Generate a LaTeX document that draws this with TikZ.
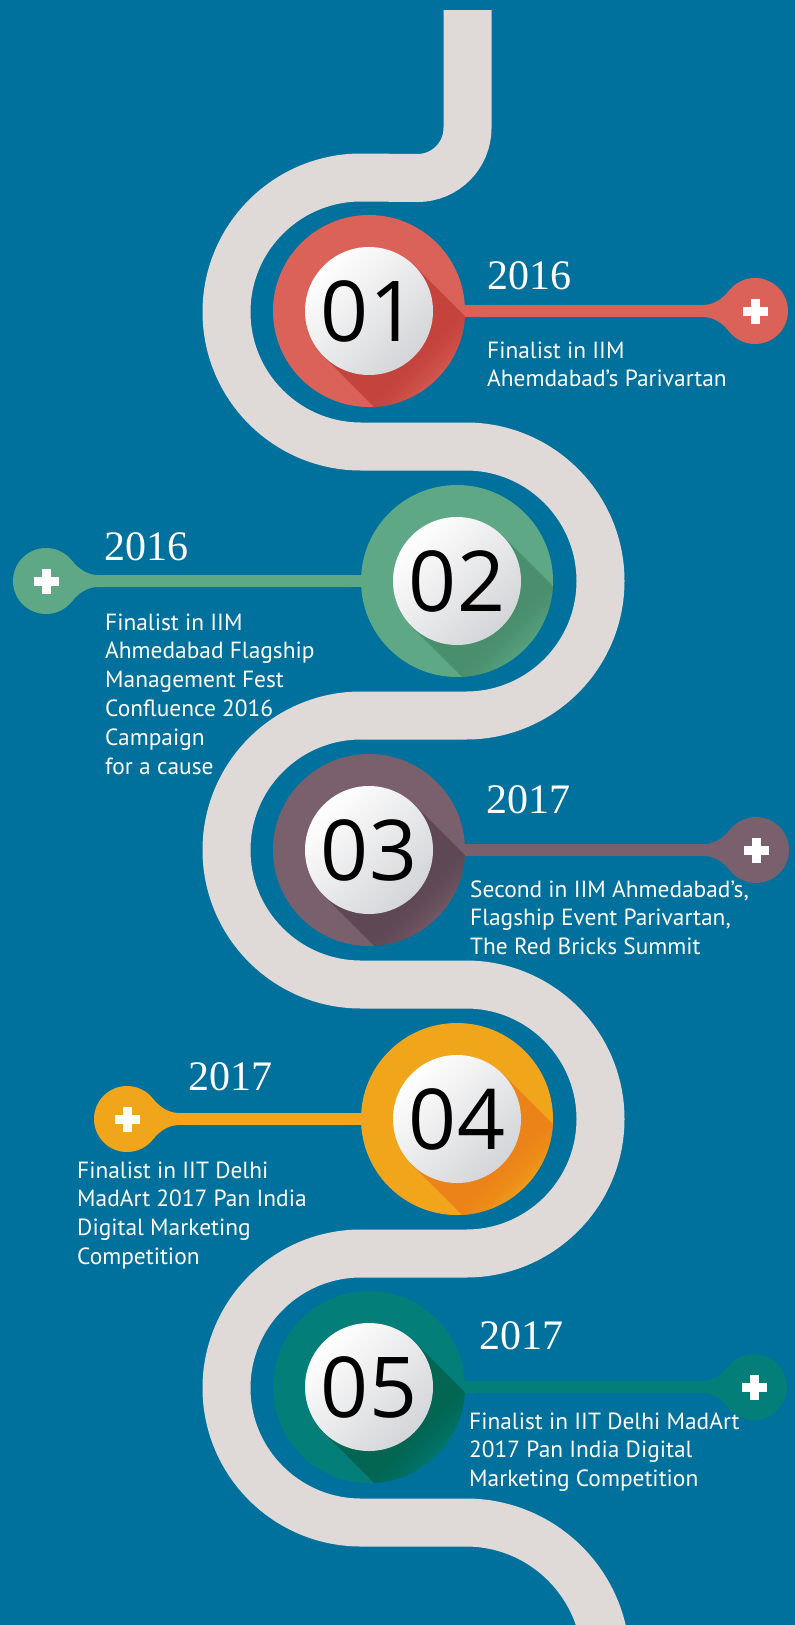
\documentclass[tikz,border=0pt]{standalone}
\usepackage{fontspec}
\newfontfamily\descfont{PT Sans}
\newfontfamily\yearfont{Liberation Serif}
\newfontfamily\numfont{Open Sans}
\definecolor{bgc}{HTML}{00719D}
\definecolor{roadc}{HTML}{DFDAD8}
\definecolor{ballgrey}{HTML}{D4D5D8}
\definecolor{redc}{HTML}{DA6259}
\definecolor{redd}{HTML}{C23F39}
\definecolor{greenc}{HTML}{5EA886}
\definecolor{greend}{HTML}{478C6A}
\definecolor{mauvec}{HTML}{79606C}
\definecolor{mauved}{HTML}{5C4552}
\definecolor{orangec}{HTML}{F1A51B}
\definecolor{oranged}{HTML}{EC7E18}
\definecolor{tealc}{HTML}{037E78}
\definecolor{teald}{HTML}{02634E}
\tikzset{
  road/.style={line width=48pt, draw=roadc},
  conn/.style={line width=12pt},
  yearlbl/.style={text=white, font=\yearfont\fontsize{42}{42}\selectfont, anchor=base west, inner sep=0pt},
  desclbl/.style={text=white, font=\descfont\fontsize{23.4}{28.8}\selectfont, anchor=base west, inner sep=0pt},
  numlbl/.style={text=black, font=\numfont\fontsize{84}{84}\selectfont, inner sep=0pt},
}
\newcommand\desc[1]{\begin{tabular}[t]{@{}l@{}}#1\end{tabular}}
\newcommand\pinhead[3]{%
  \begin{scope}[shift={(#1)}, xscale=#2]
    \fill[#3] (0,0) circle (33);
    \fill[#3] (-52,-6) .. controls (-40,-6) and (-31,-14) .. (-26,-20.3) -- (0,0) -- (-52,0) -- cycle;
    \fill[#3] (-52,6) .. controls (-40,6) and (-31,14) .. (-26,20.3) -- (0,0) -- (-52,0) -- cycle;
    \fill[white] (-12.5,-4.5) rectangle (12.5,4.5);
    \fill[white] (-4.5,-12.5) rectangle (4.5,12.5);
  \end{scope}}
\newcommand\medal[4]{%
  \fill[#2] (#1) circle (96);
  \begin{scope}
    \clip (#1) circle (96);
    \begin{scope}[shift={(#1)}, rotate=-45]
      \foreach \L in {68,72,...,100} \fill[#3, opacity=0.17] (0,-64) rectangle (\L,64);
    \end{scope}
  \end{scope}
  \shade[top color=white, bottom color=ballgrey, shading angle=45] (#1) circle (64);
  \node[numlbl] (n#4) at (#1) {#4};}
\begin{document}
\begin{tikzpicture}[x=1pt, y=-1pt]
\useasboundingbox (0,0) rectangle (795,1625);
\fill[bgc] (0,0) rectangle (795,1625);
\clip (0,0) rectangle (795,1625);
% road
\draw[road] (467.5,10) -- (467.5,128) arc[start angle=0, end angle=90, radius=50]
  -- (361,177.5) arc[start angle=-90, end angle=-270, radius=134.5]
  -- (466,446.5) arc[start angle=-90, end angle=90, radius=134.5]
  -- (361,715.5) arc[start angle=-90, end angle=-270, radius=134.5]
  -- (466,984.5) arc[start angle=-90, end angle=90, radius=134.5]
  -- (361,1253.5) arc[start angle=-90, end angle=-270, radius=134.5]
  -- (466,1522.5) arc[start angle=-90, end angle=0, radius=140];
% centres
\coordinate (c1) at (369,311);  \coordinate (e1) at (755,311);
\coordinate (c2) at (457,581);  \coordinate (e2) at (46,581);
\coordinate (c3) at (369,850);  \coordinate (e3) at (756,850);
\coordinate (c4) at (457,1119); \coordinate (e4) at (127,1119);
\coordinate (c5) at (369,1387); \coordinate (e5) at (754,1387);
% connectors
\draw[conn, redc] (c1) -- (e1);
\draw[conn, greenc] (c2) -- (e2);
\draw[conn, mauvec] (c3) -- (e3);
\draw[conn, orangec] (c4) -- (e4);
\draw[conn, tealc] (c5) -- (e5);
\pinhead{e1}{1}{redc}
\pinhead{e2}{-1}{greenc}
\pinhead{e3}{1}{mauvec}
\pinhead{e4}{-1}{orangec}
\pinhead{e5}{1}{tealc}
% medallions
\medal{c1}{redc}{redd}{01}
\medal{c2}{greenc}{greend}{02}
\medal{c3}{mauvec}{mauved}{03}
\medal{c4}{orangec}{oranged}{04}
\medal{c5}{tealc}{teald}{05}
% labels
\node[yearlbl] (y1) at (487,289) {2016};
\node[desclbl] (d1) at (487,358) {\desc{Finalist in IIM\\Ahemdabad’s Parivartan}};
\node[yearlbl] (y2) at (104,560) {2016};
\node[desclbl] (d2) at (105,630) {\desc{Finalist in IIM\\Ahmedabad Flagship\\Management Fest\\Confluence 2016\\Campaign\\for a cause}};
\node[yearlbl] (y3) at (486,813) {2017};
\node[desclbl] (d3) at (470,897) {\desc{Second in IIM Ahmedabad’s,\\Flagship Event Parivartan,\\The Red Bricks Summit}};
\node[yearlbl] (y4) at (188,1090) {2017};
\node[desclbl] (d4) at (77,1178) {\desc{Finalist in IIT Delhi\\MadArt 2017 Pan India\\Digital Marketing\\Competition}};
\node[yearlbl] (y5) at (479,1349) {2017};
\node[desclbl] (d5) at (469,1429) {\desc{Finalist in IIT Delhi MadArt\\2017 Pan India Digital\\Marketing Competition}};
\end{tikzpicture}
\end{document}
